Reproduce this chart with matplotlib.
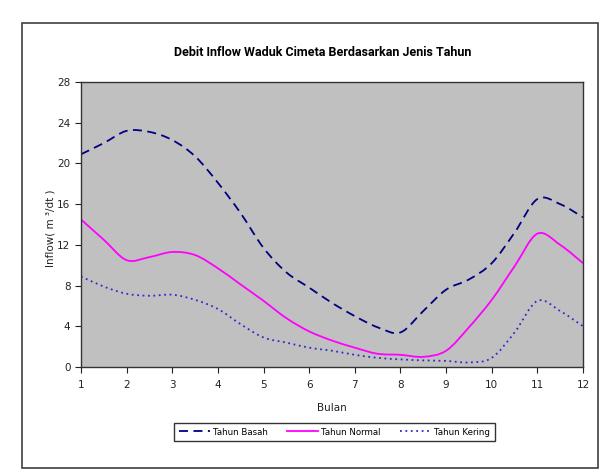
import numpy as np
import matplotlib
matplotlib.use("Agg")
import matplotlib.pyplot as plt
from matplotlib.path import Path
from matplotlib.patches import PathPatch, Rectangle
from matplotlib.lines import Line2D

# bulan (setengah bulanan)
bulan = [1, 1.5, 2, 2.5, 3, 3.5, 4, 4.5, 5, 5.5, 6, 6.5, 7, 7.5, 8, 8.5,
         9, 9.5, 10, 10.5, 11, 11.5, 12]

tahun_basah = [20.9, 22.0, 23.2, 23.1, 22.3, 20.7, 18.1, 15.1, 11.7, 9.3, 7.8, 6.3,
               5.0, 3.9, 3.4, 5.5, 7.6, 8.6, 10.2, 13.2, 16.5, 16.0, 14.7]
tahun_normal = [14.5, 12.5, 10.5, 10.8, 11.3, 11.0, 9.7, 8.1, 6.5, 4.8, 3.5, 2.6,
                1.9, 1.3, 1.2, 1.0, 1.6, 3.9, 6.6, 9.9, 13.1, 12.0, 10.2]
tahun_kering = [8.9, 7.9, 7.2, 7.0, 7.1, 6.6, 5.7, 4.2, 2.9, 2.4, 1.9, 1.6,
                1.2, 0.9, 0.75, 0.65, 0.6, 0.45, 0.9, 3.4, 6.5, 5.5, 4.0]

labels = ["Tahun Basah", "Tahun Normal", "Tahun Kering"]
x_ticks = list(range(1, 13))
y_ticks = list(range(0, 29, 4))


def smooth_path(x, y):
    # garis halus ala excel (bezier catmull-rom)
    p = np.column_stack([x, y]).astype(float)
    n = len(p)
    verts = [p[0]]
    codes = [Path.MOVETO]
    for i in range(n - 1):
        p0 = p[i - 1] if i > 0 else p[i]
        p1 = p[i]
        p2 = p[i + 1]
        p3 = p[i + 2] if i + 2 < n else p[i + 1]
        c1 = p1 + (p2 - p0) / 6.0
        c2 = p2 - (p3 - p1) / 6.0
        verts += [c1, c2, p2]
        codes += [Path.CURVE4] * 3
    return Path(verts, codes)


fig = plt.figure(figsize=(6.13, 4.74), dpi=100)
fig.patch.set_facecolor("white")

fig.patches.append(Rectangle((0.036, 0.013), 0.94, 0.939, transform=fig.transFigure,
                             fill=False, edgecolor="#404040", linewidth=1.2))

ax = fig.add_axes([0.1321, 0.2257, 0.819, 0.6013])
ax.set_facecolor("#c0c0c0")

styles = [
    dict(color="#000080", linestyle=(0, (5, 3))),
    dict(color="#ff00ff", linestyle="-"),
    dict(color="#2a2ad0", linestyle=(0, (1, 2))),
]
series = [tahun_basah, tahun_normal, tahun_kering]

handles = []
for data, st, lab in zip(series, styles, labels):
    patch = PathPatch(smooth_path(bulan, data), facecolor="none",
                      edgecolor=st["color"], linestyle=st["linestyle"],
                      linewidth=1.3, transform=ax.transData)
    ax.add_patch(patch)
    handles.append(Line2D([], [], color=st["color"], linestyle=st["linestyle"],
                          linewidth=1.3, label=lab))

ax.set_xlim(1, 12)
ax.set_ylim(0, 28)
ax.set_xticks(x_ticks)
ax.set_yticks(y_ticks)
ax.tick_params(direction="out", length=4, width=0.8, labelsize=7.5, colors="#222222")
ax.tick_params(axis="x", pad=5)
for s in ax.spines.values():
    s.set_color("#333333")
    s.set_linewidth(1.0)

fig.text(0.527, 0.890, "Debit Inflow Waduk Cimeta Berdasarkan Jenis Tahun",
         ha="center", va="center", fontsize=9, fontweight="bold",
         family=["Roboto", "DejaVu Sans"])
fig.text(0.0816, 0.519, "Inflow( m ³/dt )", rotation=90, ha="center", va="center",
         fontsize=7.5, color="#222222")
fig.text(0.541, 0.139, "Bulan", ha="center", va="center", fontsize=7.5, color="#222222")

leg = fig.legend(handles=handles, loc="center", bbox_to_anchor=(0.5457, 0.0886),
                 ncol=3, fontsize=6.2, frameon=True, fancybox=False,
                 handlelength=3.6, handletextpad=0.4, columnspacing=2.2, borderpad=0.5)
leg.get_frame().set_edgecolor("black")
leg.get_frame().set_linewidth(1.0)

fig.savefig("out.png", dpi=100)
